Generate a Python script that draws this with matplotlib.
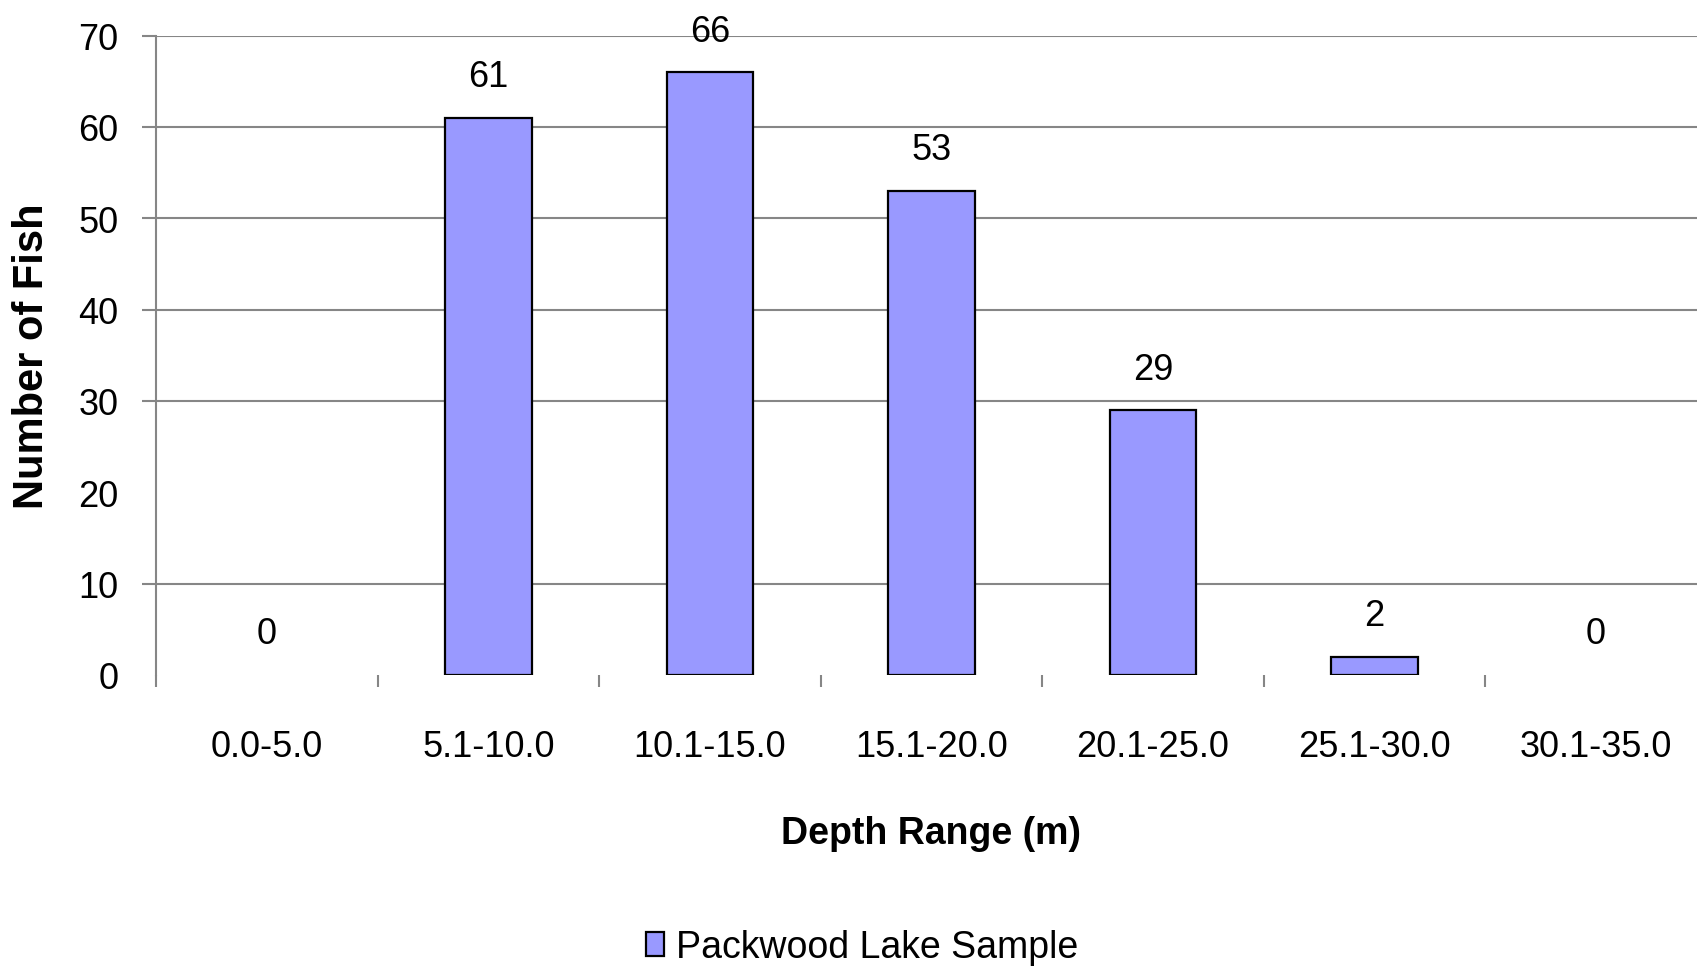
import matplotlib
matplotlib.use("Agg")
import matplotlib.pyplot as plt
from matplotlib.ticker import FixedLocator

# data
depth_ranges = ["0.0-5.0", "5.1-10.0", "10.1-15.0", "15.1-20.0",
                "20.1-25.0", "25.1-30.0", "30.1-35.0"]
fish_counts = [0, 61, 66, 53, 29, 2, 0]
y_ticks = [0, 10, 20, 30, 40, 50, 60, 70]
series_name = "Packwood Lake Sample"

sans = ["Liberation Sans", "DejaVu Sans"]
grey = "#868686"

fig = plt.figure(figsize=(16.97, 9.70), dpi=100)
ax = fig.add_axes([0.0921, 0.3031, 0.9136, 0.6591])

x = list(range(len(depth_ranges)))
bars = ax.bar(x, fish_counts, width=0.39, color="#9999FF",
              edgecolor="black", linewidth=1.6, label=series_name, zorder=3)

ax.bar_label(bars, padding=17, fontsize=26, family=sans)

ax.set_xlim(-0.5, len(depth_ranges) - 0.5)
ax.set_ylim(0, 70)

# y axis
ax.set_yticks(y_ticks)
ax.tick_params(axis="y", length=10.4, width=1.5, color=grey, pad=17,
               labelsize=26)
for lab in ax.get_yticklabels():
    lab.set_family(sans)
ax.grid(axis="y", color=grey, linewidth=1.5, zorder=0)
# the 0 and 20 lines are not drawn in the original
for i, v in enumerate(y_ticks):
    if v in (0, 20):
        ax.yaxis.get_gridlines()[i].set_visible(False)
        ax.yaxis.get_major_ticks()[i].tick1line.set_visible(False)

# x axis: labels at the centres, ticks between categories
ax.set_xticks(x)
ax.set_xticklabels(depth_ranges, family=sans, fontsize=26)
ax.tick_params(axis="x", which="major", length=0, pad=39)
ax.xaxis.set_minor_locator(FixedLocator([i - 0.5 for i in range(len(x) + 1)]))
ax.tick_params(axis="x", which="minor", length=8.6, width=1.5, color=grey)

for side in ("top", "right", "bottom"):
    ax.spines[side].set_visible(False)
ax.spines["left"].set_color(grey)
ax.spines["left"].set_linewidth(1.5)

ax.set_xlabel("Depth Range (m)", family=sans, fontweight="bold", fontsize=27)
ax.xaxis.label.set_va("center")
ax.xaxis.set_label_coords(0.5, -0.2479)
ax.set_ylabel("Number of Fish", family=sans, fontweight="bold", fontsize=30)
ax.yaxis.label.set_va("center")
ax.yaxis.set_label_coords(-0.0802, 0.5)

leg = fig.legend(loc="center", bbox_to_anchor=(862 / 1697, 1 - 948 / 970),
                 frameon=False, prop={"family": sans, "size": 27},
                 handlelength=0.48, handleheight=0.62, handletextpad=0.3)

# empty categories show no outline (after the legend copied the style)
for b, v in zip(bars, fish_counts):
    if v == 0:
        b.set_linewidth(0)

fig.savefig("out.png", dpi=100)
